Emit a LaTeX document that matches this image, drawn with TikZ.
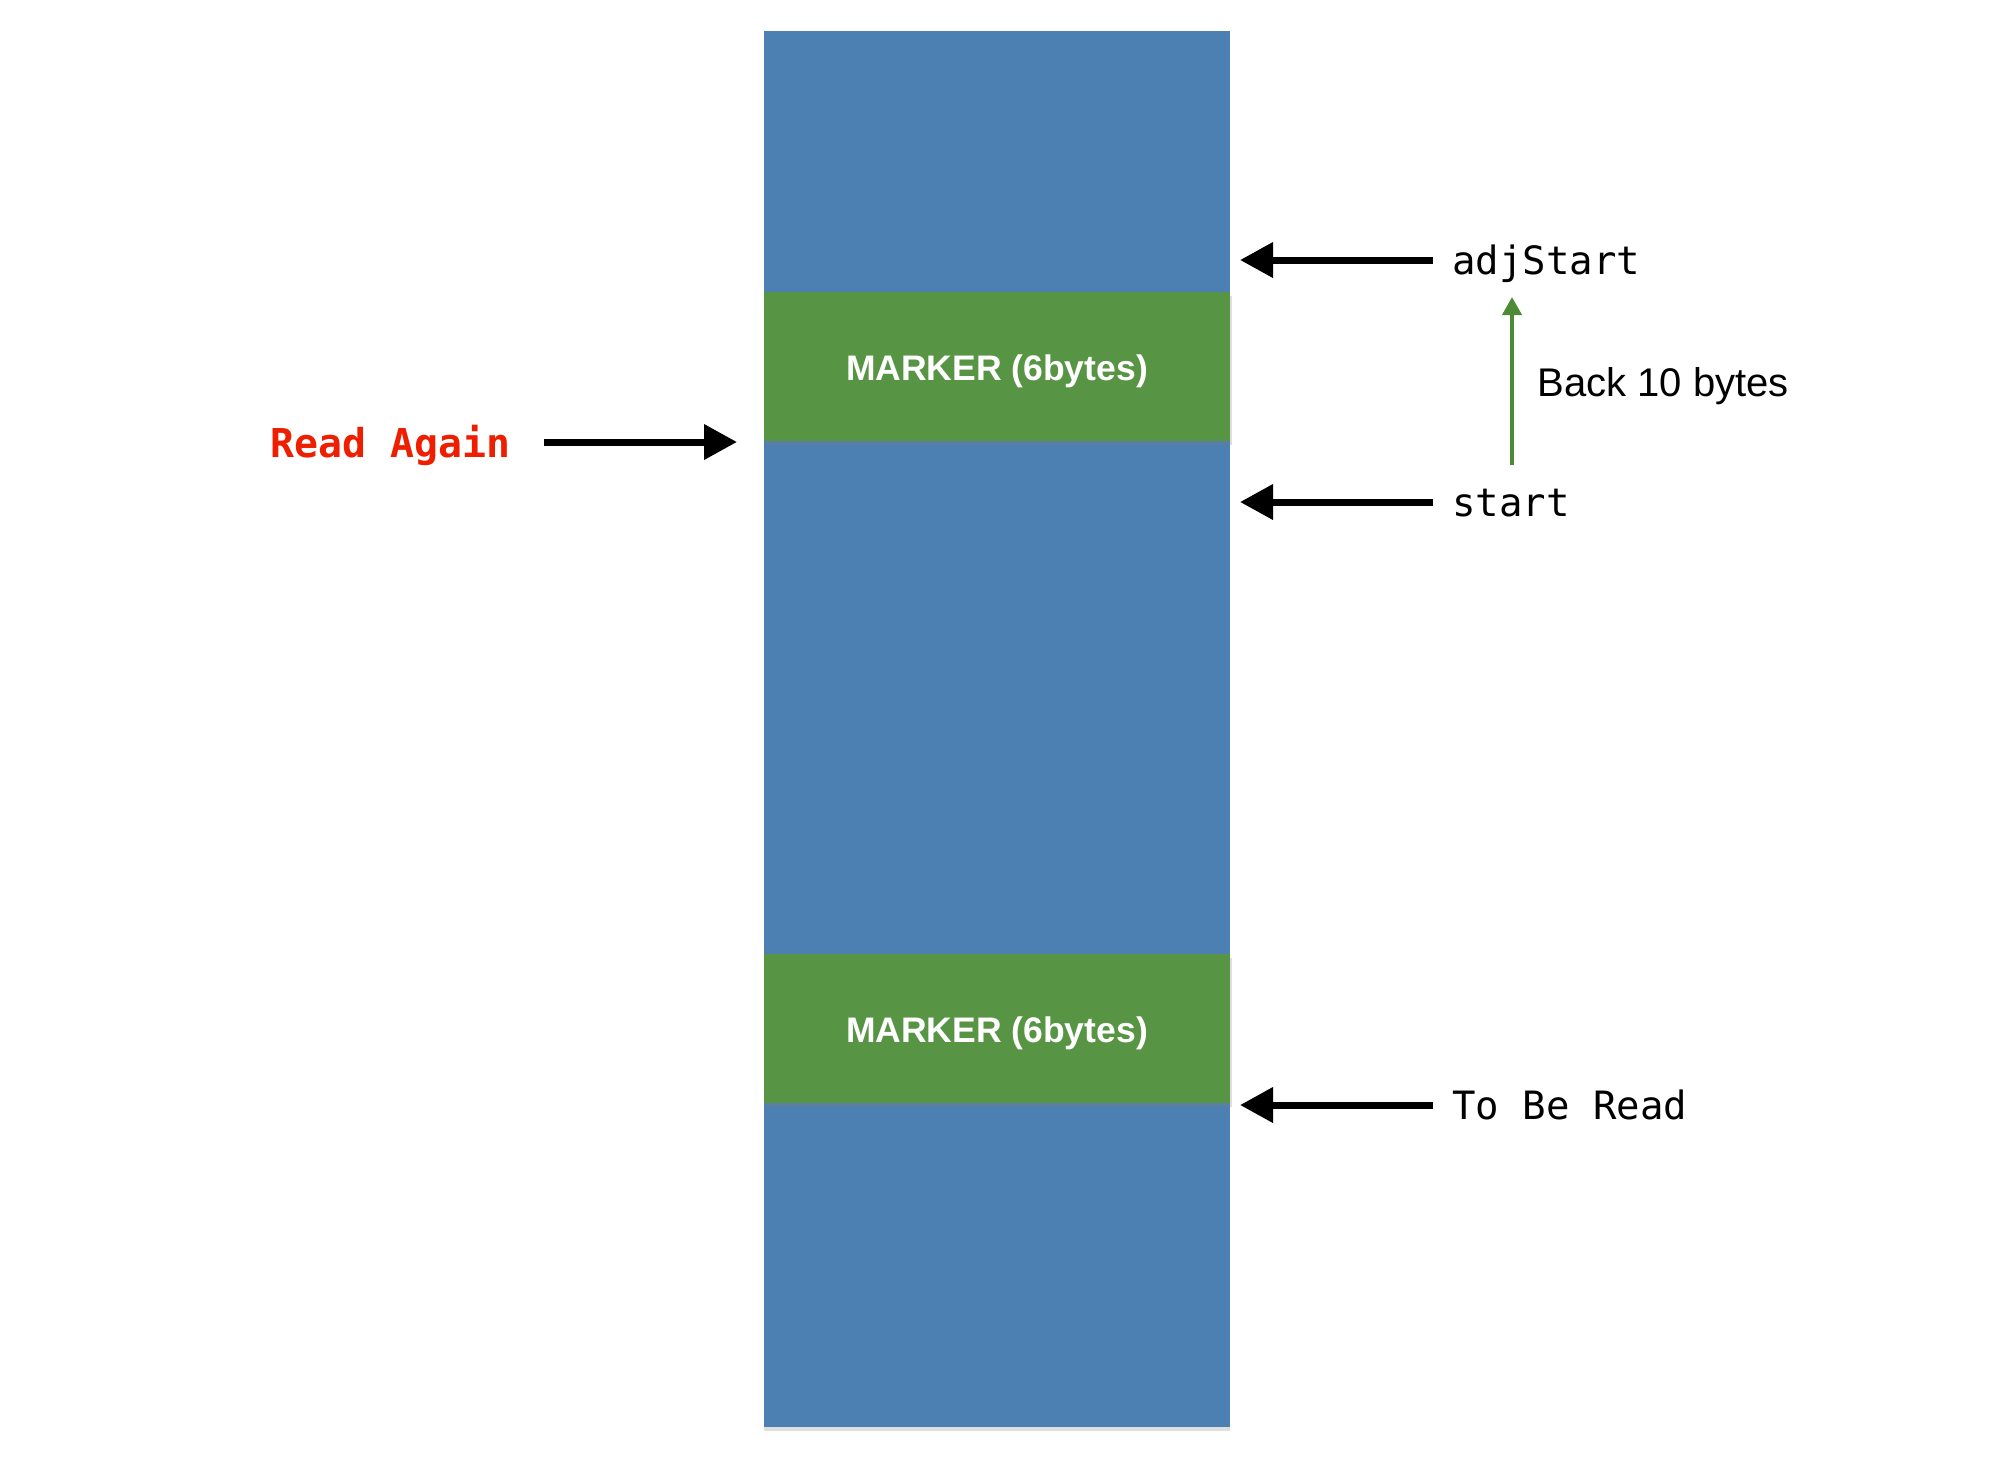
\documentclass[tikz,border=0pt]{standalone}
\usepackage{fontspec}
\setmainfont{Liberation Sans}
\setsansfont{Liberation Sans}
\setmonofont{DejaVu Sans Mono}
\usetikzlibrary{arrows.meta,shadows}
\definecolor{colblue}{RGB}{76,127,178}
\definecolor{mkgreen}{RGB}{87,149,68}
\definecolor{argreen}{RGB}{78,138,53}
\definecolor{readred}{RGB}{238,30,0}
\tikzset{
  x=0.5pt, y=-0.5pt,
  column/.style={fill=colblue, draw=none, minimum width=233pt, minimum height=698pt, inner sep=0pt,
    drop shadow={opacity=0.25, shadow xshift=0pt, shadow yshift=-2pt}},
  markerband/.style={fill=mkgreen, draw=none, minimum width=233pt, minimum height=74.5pt, inner sep=0pt,
    text height=14.3pt, text depth=0pt,
    text=white, font=\fontsize{17.75pt}{20pt}\selectfont\sffamily\bfseries,
    drop shadow={opacity=0.25, shadow xshift=1pt, shadow yshift=-2pt}},
  monolabel/.style={inner sep=0pt, anchor=base west, font=\fontsize{19.5pt}{22pt}\selectfont\ttfamily},
  redlabel/.style={inner sep=0pt, anchor=base west, text=readred, font=\fontsize{19.9pt}{23pt}\selectfont\ttfamily\bfseries},
  backlabel/.style={inner sep=0pt, anchor=base west, font=\fontsize{20pt}{23pt}\selectfont\sffamily},
  blkarrow/.style={line width=3.5pt, -{Triangle[length=16.5pt, width=17pt]}},
  grnarrow/.style={draw=argreen, line width=2pt, -{Triangle[length=9pt, width=9.5pt]}, color=argreen},
}
\begin{document}
\begin{tikzpicture}
\useasboundingbox (0,0) rectangle (2006,1464);
% column
\node[column] (col) at (997,729) {};
\node[markerband] (m1) at (997,366.5) {MARKER (6bytes)};
\node[markerband] (m2) at (997,1028.5) {MARKER (6bytes)};
% labels
\node[monolabel] (adj) at (1452,274) {adjStart};
\node[monolabel] (st) at (1452,516) {start};
\node[monolabel] (tbr) at (1452,1119) {To Be Read};
\node[redlabel] (ra) at (270,457) {Read Again};
\node[backlabel] (back) at (1537,396) {Back 10 bytes};
% tip x-positions
\coordinate (tipR) at (1240,0);
\coordinate (raS) at (544,0);
\coordinate (raT) at (737,0);
% black arrows
\draw[blkarrow] ([xshift=-9.5pt,yshift=7pt]adj.base west) coordinate (a1) -- (a1 -| tipR);
\draw[blkarrow] ([xshift=-9.5pt,yshift=7pt]st.base west) coordinate (a2) -- (a2 -| tipR);
\draw[blkarrow] ([xshift=-9.5pt,yshift=7pt]tbr.base west) coordinate (a3) -- (a3 -| tipR);
\path ([yshift=7.5pt]ra.base east) coordinate (a4);
\draw[blkarrow] (a4 -| raS) -- (a4 -| raT);
% green arrow
\coordinate (gb) at (1512,465);
\coordinate (gt) at (1512,297);
\draw[grnarrow] (gb) -- (gt);
\end{tikzpicture}
\end{document}
